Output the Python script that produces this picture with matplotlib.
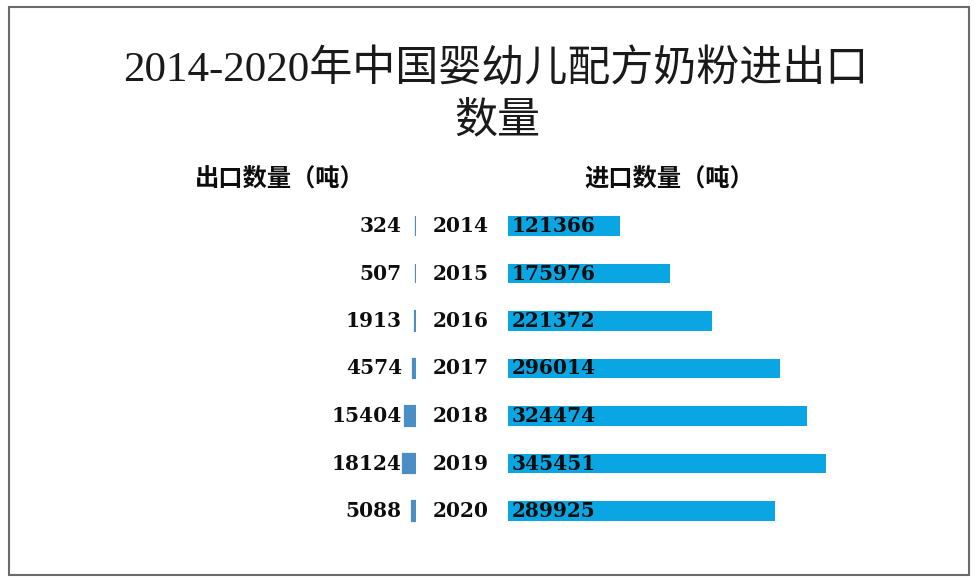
import matplotlib.pyplot as plt
from matplotlib.patches import Rectangle

# === Dati ===
years = ["2014", "2015", "2016", "2017", "2018", "2019", "2020"]
export_t = [324, 507, 1913, 4574, 15404, 18124, 5088]
import_t = [121366, 175976, 221372, 296014, 324474, 345451, 289925]

title_l1 = "2014-2020年中国婴幼儿配方奶粉进出口"
title_l2 = "数量"
head_exp = "出口数量（吨）"
head_imp = "进口数量（吨）"

EXP_COLOR = "#4A8FC4"
IMP_COLOR = "#0AA5E3"
CJK = ["Liberation Serif", "Noto Sans CJK SC", "DejaVu Sans"]
NUM = "DejaVu Serif"

W, H = 978, 580
fig = plt.figure(figsize=(W / 100, H / 100), dpi=100)
fig.patch.set_facecolor("white")

def fx(px):
    return px / W

def fy(py):
    return 1 - py / H

# pixel geometry of the rows
row_top, row_h = 202.25, 47.5
n = len(years)
bottom = fy(row_top + row_h * n)
height = row_h * n / H

# right axes: import
r_left, r_w = 508, 400
ax_r = fig.add_axes([fx(r_left), bottom, fx(r_w), height])
ax_r.barh(range(n), import_t, height=0.42, color=IMP_COLOR)
ax_r.set_xlim(0, max(import_t) * r_w / 318)
ax_r.set_ylim(n - 0.5, -0.5)
ax_r.axis("off")

# left axes: export (inverted)
l_right, l_w = 416, 100
ax_l = fig.add_axes([fx(l_right - l_w), bottom, fx(l_w), height])
ax_l.barh(range(n), export_t, height=0.42, color=EXP_COLOR,
          edgecolor=EXP_COLOR, linewidth=1.6)
ax_l.set_xlim(max(export_t) * l_w / 13, 0)
ax_l.set_ylim(n - 0.5, -0.5)
ax_l.axis("off")

tr_r = ax_r.get_yaxis_transform()
tr_l = ax_l.get_yaxis_transform()
for i in range(n):
    ax_r.text(4 / r_w, i, str(import_t[i]), transform=tr_r, ha="left", va="center",
              fontsize=14.5, fontweight="bold", family=NUM, color="#0d0d0d", zorder=5)
    ax_r.text((461 - r_left) / r_w, i, years[i], transform=tr_r, ha="center", va="center",
              fontsize=14.5, fontweight="bold", family=NUM, color="#0d0d0d")
    ax_l.text((402 - (l_right - l_w)) / l_w, i, str(export_t[i]), transform=tr_l,
              ha="right", va="center", fontsize=14.5, fontweight="bold", family=NUM,
              color="#0d0d0d", zorder=5)

# === Titoli ===
fig.text(fx(496), fy(70), title_l1, ha="center", va="center", fontsize=31,
         family=CJK, color="#1a1a1a")
fig.text(fx(497), fy(122), title_l2, ha="center", va="center", fontsize=31,
         family=CJK, color="#1a1a1a")
fig.text(fx(280), fy(180), head_exp, ha="center", va="center", fontsize=17.5,
         fontweight="bold", family=CJK, color="#0d0d0d")
fig.text(fx(669), fy(180), head_imp, ha="center", va="center", fontsize=17.5,
         fontweight="bold", family=CJK, color="#0d0d0d")

# === Cornice ===
fig.patches.append(Rectangle((fx(8.5), fy(575)), fx(960.5), (575 - 7) / H,
                             transform=fig.transFigure, fill=False,
                             edgecolor="#6b6b6b", linewidth=1.5))

plt.savefig("out.png", dpi=100)
